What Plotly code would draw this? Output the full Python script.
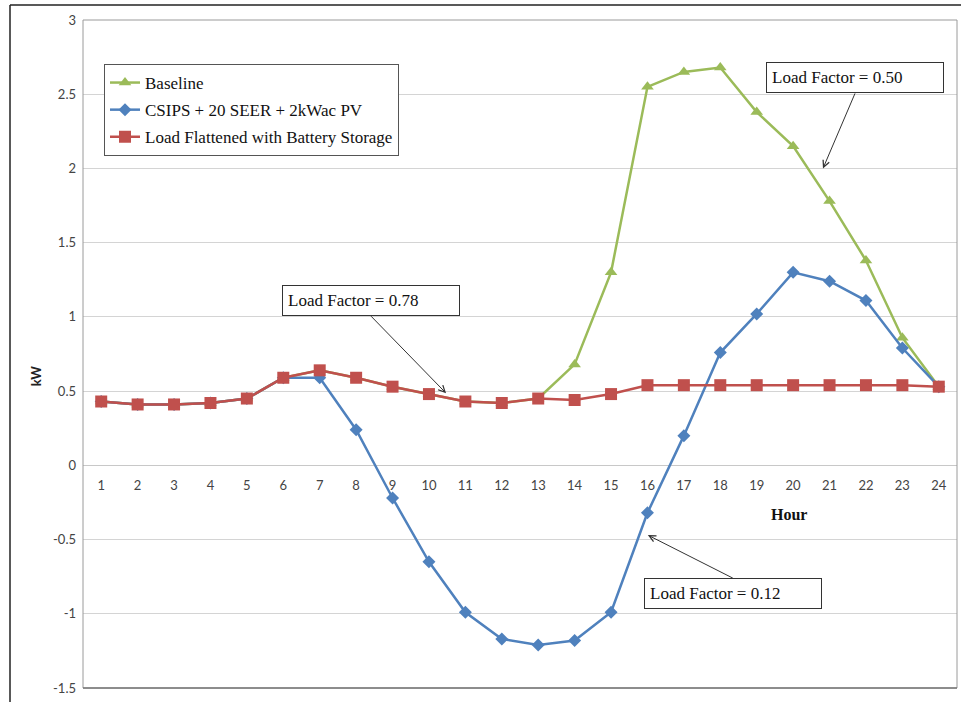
import plotly.graph_objects as go

hours = list(range(1, 25))
hour_labels = [str(h) for h in hours]

kw_ticks = [-1.5, -1, -0.5, 0, 0.5, 1, 1.5, 2, 2.5, 3]
kw_tick_labels = ["-1.5", "-1", "-0.5", "0", "0.5", "1", "1.5", "2", "2.5", "3"]

baseline = [0.43, 0.41, 0.41, 0.42, 0.45, 0.59, 0.64, 0.59, 0.53, 0.48, 0.43, 0.42,
            0.45, 0.68, 1.30, 2.55, 2.65, 2.68, 2.38, 2.15, 1.78, 1.38, 0.86, 0.53]
csips = [0.43, 0.41, 0.41, 0.42, 0.45, 0.59, 0.59, 0.24, -0.22, -0.65, -0.99, -1.17,
         -1.21, -1.18, -0.99, -0.32, 0.20, 0.76, 1.02, 1.30, 1.24, 1.11, 0.79, 0.53]
flattened = [0.43, 0.41, 0.41, 0.42, 0.45, 0.59, 0.64, 0.59, 0.53, 0.48, 0.43, 0.42,
             0.45, 0.44, 0.48, 0.54, 0.54, 0.54, 0.54, 0.54, 0.54, 0.54, 0.54, 0.53]

series_names = ["Baseline", "CSIPS + 20 SEER + 2kWac PV",
                "Load Flattened with Battery Storage"]
series_colors = ["#9BBB59", "#4F81BD", "#C0504D"]
series_symbols = ["triangle-up", "diamond", "square"]
series_sizes = [11, 10, 12]

# (text, tip hour, tip kW, tail offset x px, tail offset y px, box anchor)
load_factor_notes = [
    ("Load Factor = 0.50", 20.82, 2.00, 32, -75, "bottom"),
    ("Load Factor = 0.78", 10.47, 0.486, -75, -77, "bottom"),
    ("Load Factor = 0.12", 16.01, -0.47, 85, 43, "top"),
]

SERIF = "Liberation Serif"
SANS = "Lato"

fig = go.Figure()
for i, (vals, name) in enumerate(zip([baseline, csips, flattened], series_names)):
    fig.add_trace(go.Scatter(
        x=hours, y=vals, name=name, mode="lines+markers",
        legendgroup=name,
        line=dict(color=series_colors[i], width=2.5),
        marker=dict(symbol=series_symbols[i], size=series_sizes[i],
                    color=series_colors[i], line=dict(width=0)),
    ))

# plot frame (paper coordinates) and the page border lines
L, R, T, B = 83, 957, 20, 688
W, H = R - L, B - T


def px(x):
    return (x - L) / W


def py(y):
    return (B - y) / H


shapes = [
    dict(type="rect", xref="paper", yref="paper", x0=0, x1=1, y0=0, y1=1,
         line=dict(color="#9a9a9a", width=1), layer="above"),
    dict(type="line", xref="paper", yref="paper", x0=0, x1=1, y0=0, y1=0,
         line=dict(color="#777777", width=1.5), layer="above"),
    dict(type="line", xref="paper", yref="paper", x0=px(10), x1=px(961),
         y0=py(5), y1=py(5), line=dict(color="#222222", width=1.5)),
    dict(type="line", xref="paper", yref="paper", x0=px(10), x1=px(10),
         y0=py(5), y1=py(702), line=dict(color="#222222", width=1.5)),
]

annotations = []
for text, hx, ky, axp, ayp, anchor in load_factor_notes:
    annotations.append(dict(
        x=hx, y=ky, xref="x", yref="y", text=text, showarrow=True,
        ax=axp, ay=ayp, xanchor="center", yanchor=anchor,
        arrowhead=5, arrowsize=1.3, arrowwidth=1, arrowcolor="#333333",
        font=dict(family=SERIF, size=17, color="#111111"),
        bgcolor="white", bordercolor="#333333", borderwidth=1,
        borderpad=5, width=166, align="left",
    ))

annotations.append(dict(
    x=19.9, y=-0.33, xref="x", yref="y", text="<b>Hour</b>", showarrow=False,
    font=dict(family=SERIF, size=16, color="#111111"),
))
annotations.append(dict(
    x=px(36), y=0.6, xref="paper", yref="y", text="<b>kW</b>", showarrow=False,
    xanchor="center", yanchor="middle",
    textangle=-90, font=dict(family=SANS, size=13, color="#222222"),
))

fig.update_layout(
    width=961, height=702,
    margin=dict(l=L, r=961 - R, t=T, b=702 - B),
    paper_bgcolor="white", plot_bgcolor="white",
    showlegend=True,
    legend=dict(
        x=px(104), y=py(64), xanchor="left", yanchor="top",
        bgcolor="white", bordercolor="#555555", borderwidth=1,
        font=dict(family=SERIF, size=17, color="#111111"),
        traceorder="grouped", tracegroupgap=2,
    ),
    xaxis=dict(
        range=[0.5, 24.5], tickmode="array", tickvals=hours, ticktext=hour_labels,
        anchor="free", position=py(465), showgrid=False, zeroline=False,
        showline=False, ticks="outside", ticklen=8, tickcolor="rgba(0,0,0,0)",
        tickfont=dict(family=SANS, size=13, color="#444444"),
    ),
    yaxis=dict(
        range=[-1.5, 3], tickmode="array", tickvals=kw_ticks, ticktext=kw_tick_labels,
        showgrid=True, gridcolor="#d4d4d4",
        gridwidth=1, zeroline=True, zerolinecolor="#c8c8c8", zerolinewidth=1,
        showline=False, ticks="", ticklabelstandoff=6,
        tickfont=dict(family=SANS, size=13, color="#444444"),
    ),
    shapes=shapes,
    annotations=annotations,
)

fig.write_html("out.html")
